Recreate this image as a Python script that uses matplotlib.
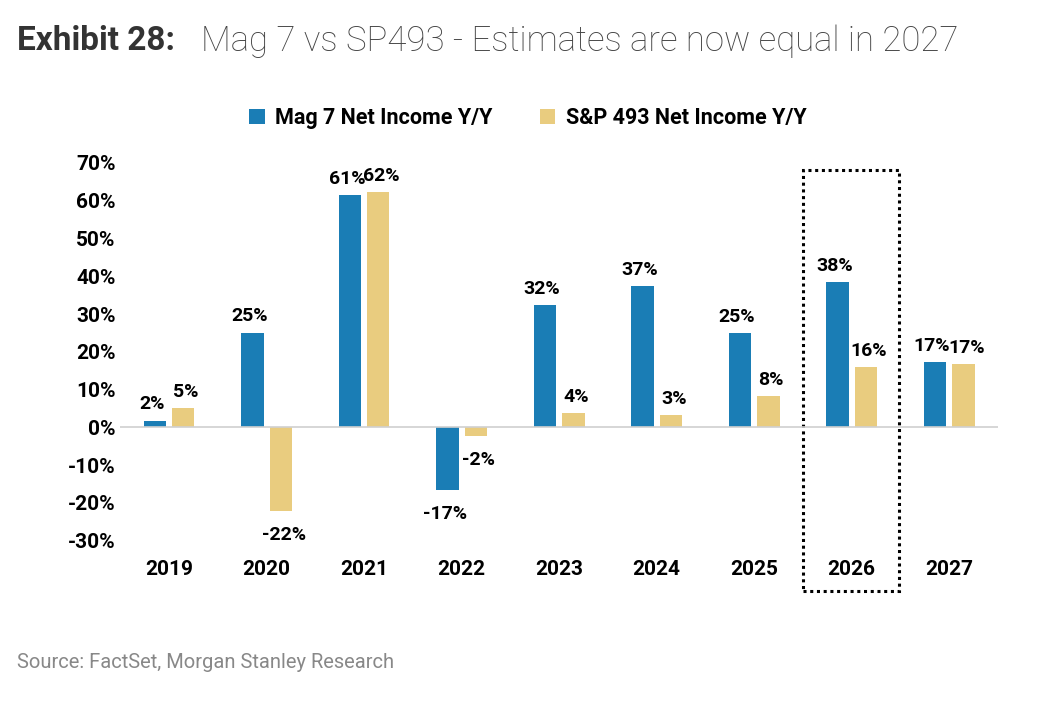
import matplotlib
matplotlib.use("Agg")
import matplotlib.pyplot as plt
from matplotlib.patches import Rectangle
import numpy as np

plt.rcParams['font.family'] = ['Roboto', 'DejaVu Sans']

years = ['2019', '2020', '2021', '2022', '2023', '2024', '2025', '2026', '2027']
mag7 = [1.8, 25.0, 61.4, -16.5, 32.3, 37.3, 24.9, 38.4, 17.2]
sp493 = [5.0, -22.0, 62.2, -2.3, 3.7, 3.2, 8.2, 15.9, 16.7]
mag7_lbl = ['2%', '25%', '61%', '-17%', '32%', '37%', '25%', '38%', '17%']
sp493_lbl = ['5%', '-22%', '62%', '-2%', '4%', '3%', '8%', '16%', '17%']

blue = '#1a7db5'
yellow = '#e9cc7f'

fig = plt.figure(figsize=(10.56, 7.05), dpi=100)
ax = fig.add_axes([0.114, 0.233, 0.831, 0.536])
x = np.arange(len(years))
w = 0.23
off = 0.145
b1 = ax.bar(x - off, mag7, w, color=blue, label='Mag 7 Net Income Y/Y')
b2 = ax.bar(x + off, sp493, w, color=yellow, label='S&P 493 Net Income Y/Y')

for xi, v, t in zip(x, mag7, mag7_lbl):
    ax.text(xi - off - 0.03, v + (2 if v >= 0 else -4), t, ha='center',
            va='bottom' if v >= 0 else 'top', fontsize=14, fontweight='bold')
for xi, v, t in zip(x, sp493, sp493_lbl):
    ax.text(xi + off + 0.03, v + (2 if v >= 0 else -4), t, ha='center',
            va='bottom' if v >= 0 else 'top', fontsize=14, fontweight='bold')

ax.set_xlim(-0.5, 8.5)
ax.set_ylim(-30, 70)
ax.set_yticks(range(-30, 80, 10))
ax.set_yticklabels([f'{t}%' for t in range(-30, 80, 10)])
ax.set_xticks(x)
ax.set_xticklabels(years)
ax.axhline(0, color='#d0d0d0', lw=1.2)
for s in ax.spines.values():
    s.set_visible(False)
ax.tick_params(length=0, labelsize=15)
ax.tick_params(axis='x', pad=14)
for lbl in ax.get_xticklabels() + ax.get_yticklabels():
    lbl.set_fontweight('bold')

ax.add_patch(Rectangle((6.5, -43.4), 0.99, 111.5, fill=False, ls=(0, (1, 1.2)),
                       lw=2.2, ec='black', clip_on=False))

fig.legend(handles=[b1, b2], loc='center', bbox_to_anchor=(0.5, 0.833), ncol=2,
           frameon=False, prop={'weight': 'bold', 'size': 15.5}, handlelength=0.7,
           handleheight=0.7, columnspacing=2.2, handletextpad=0.5)

fig.text(0.016, 0.942, 'Exhibit 28:', fontsize=24, fontweight='bold', color='#333333', va='center')
fig.text(0.19, 0.942, 'Mag 7 vs SP493 - Estimates are now equal in 2027', fontsize=25,
         color='#444444', va='center', fontweight='light')
fig.text(0.016, 0.06, 'Source: FactSet, Morgan Stanley Research', fontsize=14.5, color='#888888', va='center')

fig.savefig('out.png', dpi=100)
